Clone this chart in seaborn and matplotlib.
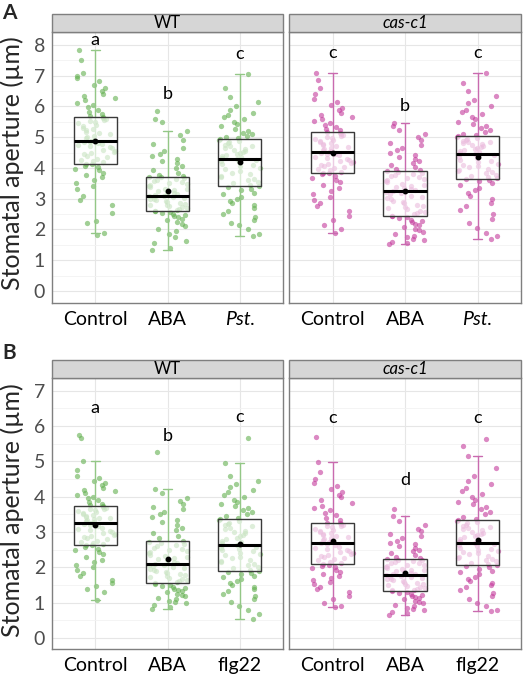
import numpy as np
import pandas as pd
import seaborn as sns
import matplotlib.pyplot as plt
from matplotlib.patches import Rectangle
from matplotlib.ticker import MultipleLocator

# Stomatal aperture values (um), estimated from the figure
# Panel A, WT
a_wt_control = [1.83, 1.9, 2.2, 2.28, 2.55, 2.8, 2.95, 3.1, 3.3, 3.4, 3.5, 3.6, 3.7, 3.78, 3.85, 3.92, 3.98, 4.03, 4.08, 4.12,
                4.14, 4.18, 4.22, 4.27, 4.3, 4.35, 4.4, 4.44, 4.48, 4.52, 4.56, 4.6, 4.64, 4.67, 4.7, 4.74, 4.77, 4.8, 4.84, 4.86,
                4.88, 4.92, 4.97, 5.0, 5.05, 5.1, 5.14, 5.18, 5.22, 5.27, 5.3, 5.35, 5.4, 5.45, 5.5, 5.53, 5.57, 5.6, 5.64, 5.66,
                5.68, 5.75, 5.82, 5.9, 5.98, 6.05, 6.12, 6.2, 6.28, 6.35, 6.42, 6.5, 6.6, 6.7, 6.82, 6.92, 7.0, 7.08, 7.5, 7.85]
a_wt_aba = [1.33, 1.4, 1.55, 1.62, 1.75, 1.85, 1.95, 2.02, 2.1, 2.18, 2.25, 2.3, 2.35, 2.4, 2.44, 2.48, 2.51, 2.54, 2.57, 2.59,
            2.61, 2.63, 2.66, 2.69, 2.72, 2.75, 2.78, 2.81, 2.84, 2.87, 2.9, 2.93, 2.96, 2.98, 3.0, 3.02, 3.04, 3.06, 3.08, 3.09,
            3.11, 3.14, 3.17, 3.2, 3.24, 3.27, 3.3, 3.33, 3.37, 3.4, 3.44, 3.47, 3.5, 3.53, 3.57, 3.6, 3.63, 3.66, 3.69, 3.71,
            3.73, 3.78, 3.85, 3.92, 4.0, 4.08, 4.15, 4.22, 4.3, 4.38, 4.45, 4.55, 4.65, 4.78, 4.92, 5.08, 5.2, 5.5, 5.6, 5.85]
a_wt_pst = [1.8, 1.85, 2.0, 2.15, 2.2, 2.3, 2.4, 2.5, 2.6, 2.7, 2.78, 2.85, 2.92, 3.0, 3.07, 3.14, 3.2, 3.27, 3.33, 3.39,
            3.41, 3.46, 3.5, 3.55, 3.6, 3.65, 3.7, 3.75, 3.8, 3.85, 3.9, 3.95, 4.0, 4.05, 4.1, 4.14, 4.18, 4.22, 4.26, 4.29,
            4.31, 4.34, 4.37, 4.4, 4.43, 4.46, 4.5, 4.53, 4.56, 4.6, 4.63, 4.66, 4.7, 4.73, 4.76, 4.8, 4.84, 4.87, 4.91, 4.94,
            4.96, 5.0, 5.05, 5.1, 5.15, 5.2, 5.28, 5.35, 5.42, 5.5, 5.58, 5.65, 5.72, 5.8, 5.9, 6.0, 6.15, 6.3, 6.6, 7.05]
# Panel A, cas-c1
a_cas_control = [1.9, 2.0, 2.15, 2.3, 2.45, 2.6, 2.75, 2.85, 2.95, 3.05, 3.15, 3.25, 3.35, 3.45, 3.55, 3.62, 3.68, 3.74, 3.79, 3.83,
                 3.85, 3.88, 3.92, 3.95, 3.99, 4.02, 4.06, 4.09, 4.13, 4.16, 4.2, 4.23, 4.27, 4.3, 4.34, 4.37, 4.41, 4.44, 4.47, 4.5,
                 4.52, 4.55, 4.58, 4.62, 4.65, 4.68, 4.72, 4.75, 4.78, 4.82, 4.85, 4.88, 4.92, 4.95, 4.98, 5.02, 5.05, 5.08, 5.12, 5.15,
                 5.17, 5.22, 5.28, 5.34, 5.4, 5.46, 5.52, 5.58, 5.65, 5.72, 5.8, 5.88, 5.96, 6.05, 6.15, 6.25, 6.4, 6.6, 6.85, 7.08]
a_cas_aba = [1.52, 1.55, 1.6, 1.65, 1.7, 1.75, 1.8, 1.86, 1.92, 1.98, 2.03, 2.08, 2.13, 2.18, 2.23, 2.28, 2.32, 2.36, 2.4, 2.43,
             2.45, 2.49, 2.53, 2.57, 2.61, 2.65, 2.69, 2.73, 2.77, 2.81, 2.86, 2.9, 2.94, 2.98, 3.02, 3.06, 3.1, 3.14, 3.19, 3.23,
             3.25, 3.28, 3.32, 3.35, 3.39, 3.42, 3.46, 3.49, 3.53, 3.56, 3.6, 3.63, 3.67, 3.7, 3.74, 3.77, 3.81, 3.84, 3.87, 3.9,
             3.92, 3.98, 4.04, 4.1, 4.16, 4.22, 4.28, 4.35, 4.42, 4.5, 4.58, 4.66, 4.74, 4.82, 4.9, 5.0, 5.1, 5.22, 5.35, 5.45]
a_cas_pst = [1.7, 1.78, 1.9, 2.05, 2.2, 2.35, 2.5, 2.62, 2.75, 2.87, 2.98, 3.08, 3.18, 3.27, 3.35, 3.43, 3.5, 3.56, 3.61, 3.64,
             3.66, 3.7, 3.74, 3.78, 3.82, 3.86, 3.9, 3.94, 3.98, 4.02, 4.06, 4.1, 4.14, 4.18, 4.22, 4.27, 4.31, 4.36, 4.41, 4.45,
             4.47, 4.5, 4.53, 4.56, 4.59, 4.62, 4.65, 4.68, 4.71, 4.74, 4.77, 4.8, 4.83, 4.86, 4.89, 4.92, 4.95, 4.98, 5.01, 5.04,
             5.06, 5.12, 5.18, 5.24, 5.3, 5.37, 5.44, 5.51, 5.58, 5.66, 5.74, 5.82, 5.9, 6.0, 6.1, 6.22, 6.35, 6.5, 6.75, 7.1]
# Panel B, WT
b_wt_control = [1.07, 1.3, 1.4, 1.48, 1.55, 1.65, 1.75, 1.85, 1.93, 2.0, 2.08, 2.15, 2.22, 2.3, 2.37, 2.43, 2.48, 2.53, 2.58, 2.62,
                2.64, 2.67, 2.7, 2.73, 2.76, 2.79, 2.82, 2.85, 2.88, 2.91, 2.94, 2.97, 3.0, 3.03, 3.06, 3.09, 3.12, 3.16, 3.2, 3.24,
                3.26, 3.29, 3.31, 3.34, 3.36, 3.39, 3.41, 3.44, 3.46, 3.49, 3.51, 3.54, 3.56, 3.59, 3.61, 3.64, 3.66, 3.69, 3.72, 3.74,
                3.76, 3.8, 3.85, 3.9, 3.95, 4.0, 4.05, 4.1, 4.15, 4.2, 4.26, 4.32, 4.38, 4.45, 4.52, 4.6, 4.75, 5.0, 5.65, 5.75]
b_wt_aba = [0.83, 0.88, 0.93, 0.98, 1.02, 1.06, 1.1, 1.14, 1.18, 1.22, 1.26, 1.3, 1.33, 1.36, 1.39, 1.42, 1.45, 1.48, 1.51, 1.53,
            1.55, 1.58, 1.61, 1.64, 1.67, 1.7, 1.72, 1.75, 1.78, 1.81, 1.84, 1.87, 1.9, 1.93, 1.95, 1.98, 2.01, 2.03, 2.06, 2.08,
            2.1, 2.13, 2.16, 2.2, 2.23, 2.26, 2.3, 2.33, 2.36, 2.4, 2.43, 2.46, 2.5, 2.53, 2.56, 2.6, 2.63, 2.66, 2.7, 2.73,
            2.75, 2.82, 2.9, 2.98, 3.05, 3.12, 3.2, 3.28, 3.35, 3.42, 3.5, 3.58, 3.65, 3.72, 3.8, 3.88, 3.95, 4.1, 4.21, 5.27]
b_wt_flg22 = [0.55, 0.68, 0.8, 0.92, 1.02, 1.1, 1.18, 1.25, 1.32, 1.38, 1.44, 1.5, 1.56, 1.62, 1.67, 1.72, 1.77, 1.81, 1.85, 1.88,
              1.9, 1.94, 1.98, 2.02, 2.06, 2.1, 2.14, 2.18, 2.22, 2.26, 2.3, 2.34, 2.38, 2.42, 2.46, 2.5, 2.53, 2.56, 2.59, 2.62,
              2.64, 2.68, 2.72, 2.76, 2.8, 2.84, 2.88, 2.92, 2.96, 3.0, 3.04, 3.08, 3.12, 3.16, 3.2, 3.24, 3.27, 3.31, 3.34, 3.37,
              3.39, 3.45, 3.5, 3.56, 3.62, 3.68, 3.74, 3.8, 3.86, 3.92, 3.98, 4.05, 4.12, 4.2, 4.28, 4.36, 4.45, 4.6, 4.96, 5.65]
# Panel B, cas-c1
b_cas_control = [0.88, 0.9, 1.0, 1.1, 1.2, 1.3, 1.38, 1.45, 1.52, 1.58, 1.64, 1.7, 1.76, 1.82, 1.87, 1.92, 1.97, 2.01, 2.05, 2.08,
                 2.1, 2.13, 2.16, 2.2, 2.23, 2.26, 2.29, 2.32, 2.35, 2.38, 2.41, 2.44, 2.47, 2.5, 2.53, 2.56, 2.59, 2.62, 2.66, 2.69,
                 2.71, 2.74, 2.77, 2.8, 2.83, 2.86, 2.89, 2.92, 2.95, 2.98, 3.01, 3.04, 3.07, 3.1, 3.13, 3.16, 3.18, 3.2, 3.23, 3.25,
                 3.27, 3.33, 3.4, 3.47, 3.54, 3.61, 3.68, 3.75, 3.82, 3.9, 3.98, 4.06, 4.14, 4.22, 4.3, 4.38, 4.5, 4.7, 4.98, 5.69]
b_cas_aba = [0.66, 0.7, 0.74, 0.78, 0.82, 0.86, 0.9, 0.94, 0.98, 1.02, 1.06, 1.1, 1.14, 1.17, 1.2, 1.23, 1.26, 1.28, 1.31, 1.33,
             1.35, 1.37, 1.4, 1.42, 1.44, 1.47, 1.49, 1.52, 1.54, 1.56, 1.59, 1.61, 1.63, 1.66, 1.68, 1.7, 1.72, 1.74, 1.76, 1.78,
             1.8, 1.82, 1.85, 1.87, 1.89, 1.92, 1.94, 1.96, 1.99, 2.01, 2.04, 2.06, 2.08, 2.11, 2.13, 2.15, 2.18, 2.2, 2.22, 2.24,
             2.26, 2.3, 2.35, 2.4, 2.45, 2.5, 2.55, 2.6, 2.65, 2.7, 2.76, 2.82, 2.88, 2.95, 3.02, 3.1, 3.2, 3.32, 3.46, 3.66]
b_cas_flg22 = [0.76, 0.8, 0.9, 1.0, 1.1, 1.2, 1.28, 1.36, 1.44, 1.5, 1.56, 1.62, 1.68, 1.74, 1.8, 1.86, 1.91, 1.96, 2.01, 2.05,
               2.07, 2.1, 2.13, 2.17, 2.2, 2.23, 2.27, 2.3, 2.33, 2.37, 2.4, 2.43, 2.47, 2.5, 2.53, 2.56, 2.6, 2.63, 2.66, 2.69,
               2.71, 2.74, 2.78, 2.81, 2.85, 2.88, 2.91, 2.95, 2.98, 3.01, 3.05, 3.08, 3.11, 3.15, 3.18, 3.21, 3.25, 3.28, 3.32, 3.35,
               3.37, 3.43, 3.5, 3.57, 3.64, 3.71, 3.78, 3.85, 3.92, 4.0, 4.08, 4.16, 4.25, 4.35, 4.45, 4.6, 4.8, 5.16, 5.43, 5.63]

treat_a = ['Control', 'ABA', 'Pst.']
treat_b = ['Control', 'ABA', 'flg22']
genotypes = ['WT', 'cas-c1']

# significance letters and their heights
letters_a_wt = ['a', 'b', 'c']
letters_a_cas = ['c', 'b', 'c']
letters_b_wt = ['a', 'b', 'c']
letters_b_cas = ['c', 'd', 'c']
letter_y_a_wt = [8.15, 6.4, 7.7]
letter_y_a_cas = [7.73, 6.0, 7.73]
letter_y_b_wt = [6.5, 5.72, 6.25]
letter_y_b_cas = [6.22, 4.47, 6.22]

sns.set_style('white')
plt.rcParams['font.family'] = ['Lato', 'DejaVu Sans']

W, H = 523, 680
fig = plt.figure(figsize=(W / 100, H / 100), dpi=100)

point_col = {'WT': '#62b04f', 'cas-c1': '#c43a9c'}
line_col = {'WT': '#93c786', 'cas-c1': '#c96aaf'}


def panel(rect, vals, order, geno, letters, letter_y, ylim, ymax_tick, left):
    ax = fig.add_axes([rect[0] / W, 1 - rect[3] / H, (rect[2] - rect[0]) / W, (rect[3] - rect[1]) / H])
    df = pd.DataFrame({'treatment': np.repeat(order, [len(v) for v in vals]),
                       'aperture': np.concatenate(vals)})

    np.random.seed(3)
    sns.stripplot(data=df, x='treatment', y='aperture', order=order, color=point_col[geno],
                  alpha=0.6, size=3.8, jitter=0.29, linewidth=0, ax=ax, zorder=1)

    # full-range whisker (errorbar style) under the box
    for i, v in enumerate(vals):
        v = np.asarray(v)
        q1, q3 = np.percentile(v, [25, 75])
        iqr = q3 - q1
        lo = v[v >= q1 - 1.5 * iqr].min()
        hi = v[v <= q3 + 1.5 * iqr].max()
        ax.plot([i, i], [lo, hi], color=line_col[geno], lw=1.0, zorder=2)
        ax.plot([i - 0.06, i + 0.06], [lo, lo], color=line_col[geno], lw=1.0, zorder=2)
        ax.plot([i - 0.06, i + 0.06], [hi, hi], color=line_col[geno], lw=1.0, zorder=2)

    n_lines = len(ax.lines)
    sns.boxplot(data=df, x='treatment', y='aperture', order=order, width=0.6, color='white',
                linecolor='#3a3a3a', linewidth=1, showfliers=False, showcaps=False,
                whiskerprops={'linewidth': 0},
                medianprops={'color': 'black', 'linewidth': 2.2},
                showmeans=True,
                meanprops={'marker': 'o', 'markerfacecolor': 'black', 'markeredgecolor': 'black',
                           'markersize': 3.2},
                ax=ax)
    for p in ax.patches:
        p.set_facecolor((1, 1, 1, 0.66))
        p.set_zorder(3)
    for ln in ax.lines[n_lines:]:
        ln.set_zorder(4)

    for i, (lab, y) in enumerate(zip(letters, letter_y)):
        ax.text(i, y, lab, ha='center', va='center', fontsize=13, color='black')

    ax.set_xlim(-0.6, 2.6)
    ax.set_ylim(*ylim)
    ax.set_yticks(range(0, ymax_tick + 1))
    ax.yaxis.set_minor_locator(MultipleLocator(0.5))
    ax.set_axisbelow(True)
    ax.grid(which='major', color='#e6e6e6', lw=0.8)
    ax.grid(which='minor', axis='y', color='#f2f2f2', lw=0.6)
    ax.set_xlabel('')
    ax.set_ylabel('')
    for s in ax.spines.values():
        s.set_color('#7f7f7f')
        s.set_linewidth(1)
    ax.tick_params(axis='x', length=3, color='#7f7f7f', labelsize=14, labelcolor='black', pad=3)
    ax.set_xticks(range(3))
    ax.set_xticklabels(order)
    if order[2] == 'Pst.':
        ax.get_xticklabels()[2].set_style('italic')
    if left:
        ax.tick_params(axis='y', length=3, color='#7f7f7f', labelsize=14, labelcolor='#4d4d4d', pad=2)
    else:
        ax.tick_params(axis='y', length=0, labelleft=False)

    # facet strip
    sh = 18 / (rect[3] - rect[1])
    ax.add_patch(Rectangle((0, 1), 1, sh, transform=ax.transAxes, clip_on=False,
                           facecolor='#d6d6d6', edgecolor='#7f7f7f', lw=1, zorder=5))
    ax.text(0.5, 1 + sh / 2, geno, transform=ax.transAxes, ha='center', va='center',
            fontsize=12, style='normal' if geno == 'WT' else 'italic', color='black',
            zorder=6)
    return ax


# Panel A
panel((52, 32, 283, 303), [a_wt_control, a_wt_aba, a_wt_pst], treat_a, 'WT',
      letters_a_wt, letter_y_a_wt, (-0.39, 8.42), 8, True)
panel((289, 32, 521, 303), [a_cas_control, a_cas_aba, a_cas_pst], treat_a, 'cas-c1',
      letters_a_cas, letter_y_a_cas, (-0.39, 8.42), 8, False)
# Panel B
panel((52, 378, 283, 649), [b_wt_control, b_wt_aba, b_wt_flg22], treat_b, 'WT',
      letters_b_wt, letter_y_b_wt, (-0.31, 7.36), 7, True)
panel((289, 378, 521, 649), [b_cas_control, b_cas_aba, b_cas_flg22], treat_b, 'cas-c1',
      letters_b_cas, letter_y_b_cas, (-0.31, 7.36), 7, False)

fig.text(12 / W, 1 - 163 / H, 'Stomatal aperture (µm)', rotation=90, ha='center', va='center', fontsize=18)
fig.text(12 / W, 1 - 510 / H, 'Stomatal aperture (µm)', rotation=90, ha='center', va='center', fontsize=18)
fig.text(2 / W, 1 - 13 / H, 'A', fontsize=15, fontweight='bold', va='center')
fig.text(2 / W, 1 - 353 / H, 'B', fontsize=15, fontweight='bold', va='center')

fig.savefig('out.png', dpi=100)
